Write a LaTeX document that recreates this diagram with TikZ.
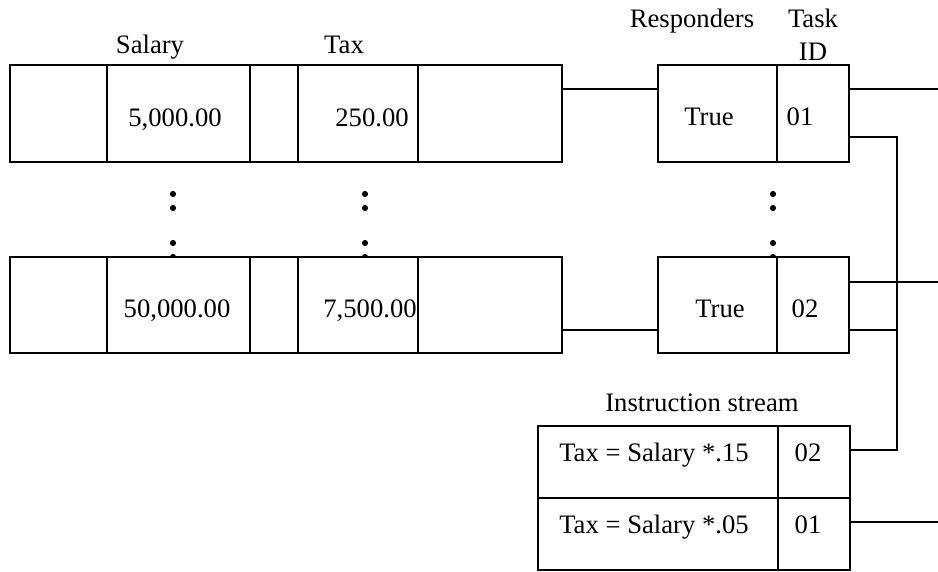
\documentclass[tikz,border=0pt]{standalone}
\usepackage{fontspec}
\setmainfont{Liberation Serif}
\usetikzlibrary{positioning}
\definecolor{SimdInk}{RGB}{0,0,0}
\tikzset{
  simd/cell/.style={
    draw=SimdInk,
    line width=1.5pt,
    fill=white,
    inner sep=0pt,
    outer sep=0pt,
    anchor=north west
  },
  simd/wire/.style={draw=SimdInk, line width=1pt},
  simd/text/.style={font=\fontsize{20}{24}\selectfont, text=SimdInk, anchor=base, inner sep=0pt}
}

\begin{document}
\begin{tikzpicture}[x=0.75pt,y=-0.75pt]
  \useasboundingbox (0,0) rectangle (938,571);
  % ellipsis between the records
  \foreach \x in {173,365,773}
    \foreach \y in {194,208,243,257}
      \fill[SimdInk] (\x,\y) circle[radius=2.3pt];

  % first record
  \node[simd/cell,minimum width=72.75pt,minimum height=72.75pt] (a1) at (10,65) {};
  \node[simd/cell,minimum width=107.25pt,minimum height=72.75pt] (a2) at (107,65) {};
  \node[simd/cell,minimum width=36pt,minimum height=72.75pt] (a3) at (250,65) {};
  \node[simd/cell,minimum width=90pt,minimum height=72.75pt] (a4) at (298,65) {};
  \node[simd/cell,minimum width=108pt,minimum height=72.75pt] (a5) at (418,65) {};
  \node[simd/cell,minimum width=89.25pt,minimum height=72.75pt] (r1) at (658,65) {};
  \node[simd/cell,minimum width=54pt,minimum height=72.75pt] (t1) at (777,65) {};

  % last record
  \node[simd/cell,minimum width=72.75pt,minimum height=72pt] (b1) at (10,257) {};
  \node[simd/cell,minimum width=107.25pt,minimum height=72pt] (b2) at (107,257) {};
  \node[simd/cell,minimum width=36pt,minimum height=72pt] (b3) at (250,257) {};
  \node[simd/cell,minimum width=90pt,minimum height=72pt] (b4) at (298,257) {};
  \node[simd/cell,minimum width=108pt,minimum height=72pt] (b5) at (418,257) {};
  \node[simd/cell,minimum width=89.25pt,minimum height=72pt] (r2) at (658,257) {};
  \node[simd/cell,minimum width=54pt,minimum height=72pt] (t2) at (777,257) {};

  % instruction stream
  \node[simd/cell,minimum width=180pt,minimum height=54pt] (q1) at (538,426) {};
  \node[simd/cell,minimum width=54pt,minimum height=54pt] (k1) at (778,426) {};
  \node[simd/cell,minimum width=180pt,minimum height=54pt] (q2) at (538,498) {};
  \node[simd/cell,minimum width=54pt,minimum height=54pt] (k2) at (778,498) {};

  % headings
  \node[simd/text] (salary) at (150,53) {Salary};
  \node[simd/text] (tax) at (344,53) {Tax};
  \node[simd/text] (resp) at (692,27) {Responders};
  \node[simd/text] (task) at (813,27) {Task};
  \node[simd/text] (taskid) at (813,60) {ID};
  \node[simd/text] (stream) at (702,411) {Instruction stream};

  % values
  \node[simd/text] (sal1) at (175,126) {5,000.00};
  \node[simd/text] (tax1) at (372,126) {250.00};
  \node[simd/text] (resp1) at (709,125) {True};
  \node[simd/text] (id1) at (800,125) {01};
  \node[simd/text] (sal2) at (177,317) {50,000.00};
  \node[simd/text] (tax2) at (370,317) {7,500.00};
  \node[simd/text] (resp2) at (720,317) {True};
  \node[simd/text] (id2) at (805,317) {02};
  \node[simd/text] (instr1) at (654,461) {Tax = Salary *.15};
  \node[simd/text] (code1) at (808,461) {02};
  \node[simd/text] (instr2) at (654,533) {Tax = Salary *.05};
  \node[simd/text] (code2) at (808,533) {01};

  % wiring
  \coordinate (out1) at (938,89);
  \coordinate (out2) at (938,282);
  \coordinate (out3) at (938,522);
  \coordinate (bus) at (897,137);
  \coordinate (tap2) at (897,330);
  \draw[simd/wire] ([yshift=-18pt]a5.north east) -- ([yshift=-18pt]r1.north west);
  \draw[simd/wire] ([yshift=-18pt]t1.north east) -- (out1);
  \draw[simd/wire] ([yshift=18.75pt]t1.south east) -- (bus) |- ([yshift=-18pt]k1.north east);
  \draw[simd/wire] ([yshift=17.25pt]b5.south east) -- ([yshift=17.25pt]r2.south west);
  \draw[simd/wire] ([yshift=-18.75pt]t2.north east) -- (out2);
  \draw[simd/wire] ([yshift=17.25pt]t2.south east) -- (tap2);
  \draw[simd/wire] ([yshift=-18pt]k2.north east) -- (out3);
\end{tikzpicture}
\end{document}
